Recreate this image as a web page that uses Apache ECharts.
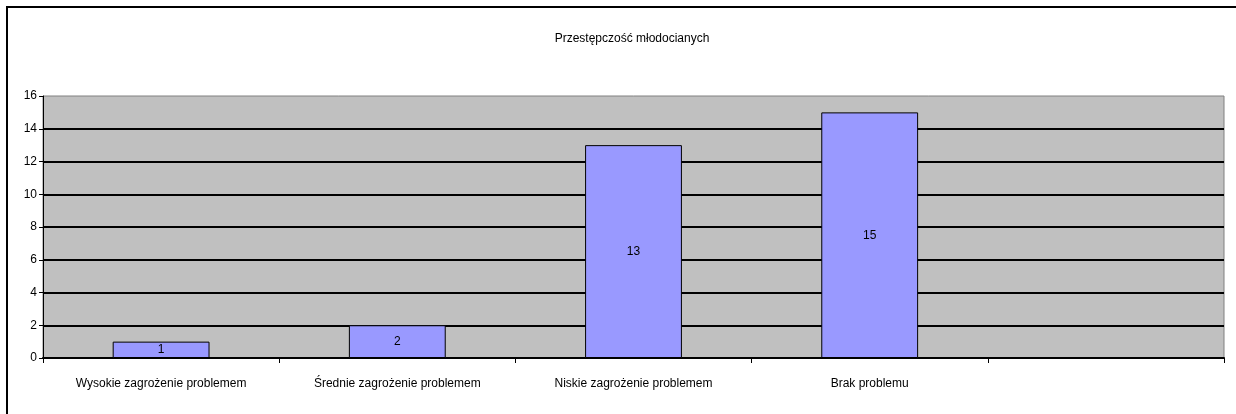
<!DOCTYPE html>
<html><head><meta charset="utf-8">
<script src="https://cdn.jsdelivr.net/npm/echarts@6/dist/echarts.min.js"></script>
<style>html,body{margin:0;padding:0;background:#fff}#c{width:1236px;height:414px}</style>
</head><body><div id="c"></div>
<script>
const titleText = 'Przestępczość młodocianych';
const categories = ['Wysokie zagrożenie problemem', 'Średnie zagrożenie problemem', 'Niskie zagrożenie problemem', 'Brak problemu', ''];
const values = [1, 2, 13, 15, null];
const yTicks = { min: 0, max: 16, interval: 2 };

const font = '"Liberation Sans Narrow", "Liberation Sans", Arial, sans-serif';
const chart = echarts.init(document.getElementById('c'), null, { renderer: 'canvas' });
chart.setOption({
  animation: false,
  backgroundColor: '#fff',
  title: {
    text: titleText, left: 627, top: 28, textAlign: 'center',
    textStyle: { fontFamily: font, fontSize: 12, fontWeight: 'normal', color: '#000' }
  },
  graphic: [{
    type: 'rect', shape: { x: 7, y: 7, width: 1250, height: 430 },
    style: { fill: 'none', stroke: '#000', lineWidth: 2 }, silent: true
  }],
  grid: {
    left: 43, right: 12, top: 96, bottom: 56,
    show: true, backgroundColor: '#c0c0c0', borderColor: '#808080', borderWidth: 1
  },
  xAxis: {
    type: 'category', data: categories,
    axisLine: { lineStyle: { color: '#000', width: 2 } },
    axisTick: { show: true, length: 5, lineStyle: { color: '#000' } },
    axisLabel: { fontFamily: font, fontSize: 12, color: '#000', margin: 20, interval: 0 }
  },
  yAxis: {
    type: 'value', min: yTicks.min, max: yTicks.max, interval: yTicks.interval,
    axisLine: { show: true, lineStyle: { color: '#000', width: 1 } },
    axisTick: { show: true, length: 4, lineStyle: { color: '#000' } },
    axisLabel: { fontFamily: font, fontSize: 12, color: '#000', margin: 6 },
    splitLine: { show: true, showMaxLine: false, lineStyle: { color: '#000', width: 2 } }
  },
  series: [{
    type: 'bar', data: values, barWidth: '41%',
    itemStyle: { color: '#9999ff', borderColor: '#000', borderWidth: 1 },
    label: { show: true, position: 'inside', fontFamily: font, fontSize: 12, color: '#000' }
  }]
});
</script></body></html>
